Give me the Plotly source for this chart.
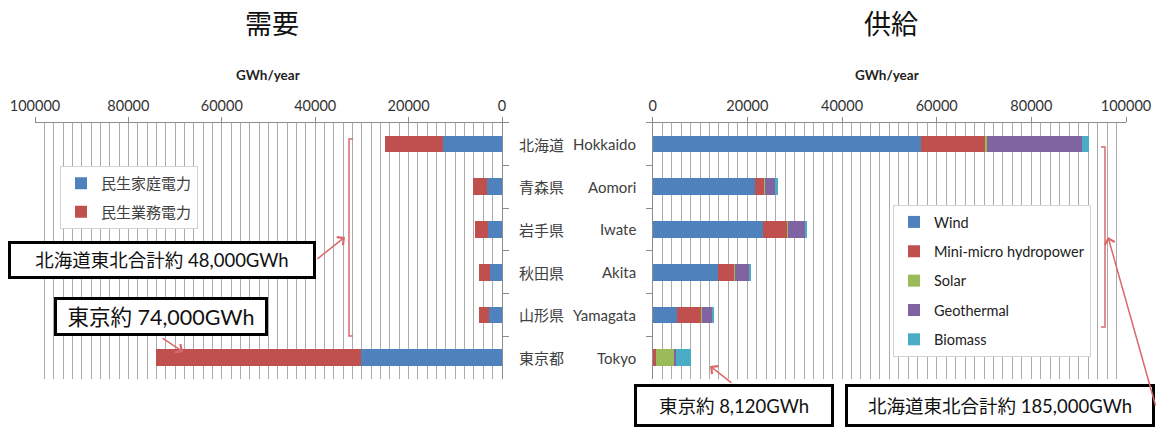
import plotly.graph_objects as go

# ---- data (GWh/year) ----
regions = ["Hokkaido", "Aomori", "Iwate", "Akita", "Yamagata", "Tokyo"]
regions_ja = ["北海道", "青森県", "岩手県", "秋田県", "山形県", "東京都"]

# demand side
household = [12600, 3200, 3100, 2600, 2700, 30300]
commercial = [12400, 3000, 2700, 2300, 2200, 43700]

# supply side (renewable potential)
wind = [56600, 21700, 23300, 13800, 5100, 0]
hydro = [13600, 1800, 5100, 3400, 5100, 600]
solar = [400, 200, 200, 200, 200, 3900]
geothermal = [20000, 2100, 3700, 3000, 2100, 400]
biomass = [1500, 600, 400, 400, 500, 3220]

x_ticks = [0, 20000, 40000, 60000, 80000, 100000]

W, H = 1157, 429
FONT = "Lato, 'Noto Sans CJK JP', sans-serif"
GRID = "#ababab"
AXIS = "#8c8c8c"
BLUE, RED, GREEN, PURPLE, CYAN = "#4F81BD", "#C0504D", "#9BBB59", "#8064A2", "#4BACC6"
ARROW = "#d9686b"


def px(x):
    return x / W


def py(y):
    return 1 - y / H


fig = go.Figure()

# demand bars (left panel, axis runs right-to-left)
for name, vals, col in [("民生家庭電力", household, BLUE), ("民生業務電力", commercial, RED)]:
    fig.add_trace(go.Bar(
        y=regions, x=vals, orientation="h", name=name, marker=dict(color=col, line=dict(width=0)),
        xaxis="x", yaxis="y", legend="legend", legendgroup=name, hoverinfo="skip",
    ))

# supply bars (right panel)
for name, vals, col in [("Wind", wind, BLUE), ("Mini-micro hydropower", hydro, RED),
                        ("Solar", solar, GREEN), ("Geothermal", geothermal, PURPLE),
                        ("Biomass", biomass, CYAN)]:
    fig.add_trace(go.Bar(
        y=regions, x=vals, orientation="h", name=name, marker=dict(color=col, line=dict(width=0)),
        xaxis="x2", yaxis="y2", legend="legend2", legendgroup=name, hoverinfo="skip",
    ))

y_dom = [py(379), py(122.7)]
xa_common = dict(
    side="top", tickvals=x_ticks, tickformat="d", ticks="outside", ticklen=5, tickcolor=AXIS,
    showline=True, linecolor=AXIS, linewidth=1, showgrid=True, gridcolor=GRID, gridwidth=1,
    minor=dict(dtick=2000, showgrid=True, gridcolor=GRID, gridwidth=1),
    zeroline=False, automargin=False,
    tickfont=dict(family=FONT, size=14.5, color="#333333"), fixedrange=True,
)
ya_common = dict(
    domain=y_dom, showticklabels=False, ticks="outside", tickson="boundaries", ticklen=6,
    tickcolor=AXIS, showline=True, linecolor=AXIS, linewidth=1, showgrid=False, automargin=False,
    categoryorder="array", categoryarray=regions, autorange="reversed", fixedrange=True,
)

fig.update_layout(
    width=W, height=H, margin=dict(l=0, r=0, t=0, b=0, autoexpand=False),
    paper_bgcolor="white", plot_bgcolor="white",
    barmode="stack", bargap=0.61,
    font=dict(family=FONT, color="#333333"),
    xaxis=dict(domain=[px(35), px(502)], range=[100000, 0], anchor="y", **xa_common),
    yaxis=dict(anchor="x", side="right", **ya_common),
    xaxis2=dict(domain=[px(652.7), px(1126)], range=[0, 100000], anchor="y2", **xa_common),
    yaxis2=dict(anchor="x2", side="left", **ya_common),
    legend=dict(x=px(60), y=py(166), xanchor="left", yanchor="top", bgcolor="white",
                bordercolor="#d4d4d4", borderwidth=1, traceorder="grouped", tracegroupgap=6,
                itemwidth=30, font=dict(family=FONT, size=15, color="#404040")),
    legend2=dict(x=px(893), y=py(205), xanchor="left", yanchor="top", bgcolor="white",
                 bordercolor="#d4d4d4", borderwidth=1, traceorder="grouped", tracegroupgap=7.5,
                 itemwidth=30, font=dict(family=FONT, size=14.5, color="#222222")),
)

ann = []
# panel titles
ann.append(dict(text="需要", x=px(272), y=py(23), xref="paper", yref="paper", showarrow=False,
                xanchor="center", yanchor="middle",
                font=dict(family="Noto Sans CJK JP", size=27, color="#111111")))
ann.append(dict(text="供給", x=px(891), y=py(23), xref="paper", yref="paper", showarrow=False,
                xanchor="center", yanchor="middle",
                font=dict(family="Noto Sans CJK JP", size=27, color="#111111")))
# axis unit labels
for cx in (268, 887):
    ann.append(dict(text="<b>GWh/year</b>", x=px(cx), y=py(75), xref="paper", yref="paper",
                    xanchor="center", yanchor="middle", showarrow=False,
                    font=dict(family=FONT, size=13.5, color="#222222")))

# region labels between the panels
for ja, en in zip(regions_ja, regions):
    ann.append(dict(text=ja, x=px(517), y=en, xref="paper", yref="y", xanchor="left",
                    showarrow=False, font=dict(family="Noto Sans CJK JP", size=15, color="#404040")))
    ann.append(dict(text=en, x=px(638), y=en, xref="paper", yref="y", xanchor="right",
                    showarrow=False, font=dict(family=FONT, size=15, color="#404040")))


def box(text, cx, cy, w, h, size):
    ann.append(dict(text=text, x=px(cx), y=py(cy), xref="paper", yref="paper", showarrow=False,
                    xanchor="center", yanchor="middle", width=w - 8, height=h - 8,
                    bgcolor="white", bordercolor="black", borderwidth=3, borderpad=1,
                    font=dict(family=FONT, size=size, color="#111111")))


def arrow(x0, y0, x1, y1):
    ann.append(dict(text="", x=px(x1), y=py(y1), xref="paper", yref="paper",
                    ax=x0 - x1, ay=y0 - y1, showarrow=True, arrowhead=4, arrowsize=1.3,
                    arrowwidth=1.5, arrowcolor=ARROW))


box("北海道東北合計約 48,000GWh", 162, 260, 308, 38, 18.5)
box("東京約 74,000GWh", 161, 316.5, 214, 39, 21.5)
box("東京約 8,120GWh", 734, 405.5, 200, 43, 18.5)
box("北海道東北合計約 185,000GWh", 1000, 405.5, 310, 43, 18.5)

arrow(316, 260, 345, 237)
arrow(161, 337, 183, 352)
arrow(733, 384, 710, 366)
arrow(1156, 407, 1108, 237)

fig.update_layout(annotations=ann)

# brackets grouping Hokkaido + Tohoku rows
fig.add_shape(type="path", xref="paper", yref="paper",
              path=f"M {px(353)} {py(139)} L {px(349)} {py(139)} L {px(349)} {py(336)} L {px(353)} {py(336)}",
              line=dict(color=ARROW, width=1.5))
fig.add_shape(type="path", xref="paper", yref="paper",
              path=f"M {px(1101)} {py(147)} L {px(1105)} {py(147)} L {px(1105)} {py(327)} L {px(1101)} {py(327)}",
              line=dict(color=ARROW, width=1.5))

fig.write_html("out.html")
